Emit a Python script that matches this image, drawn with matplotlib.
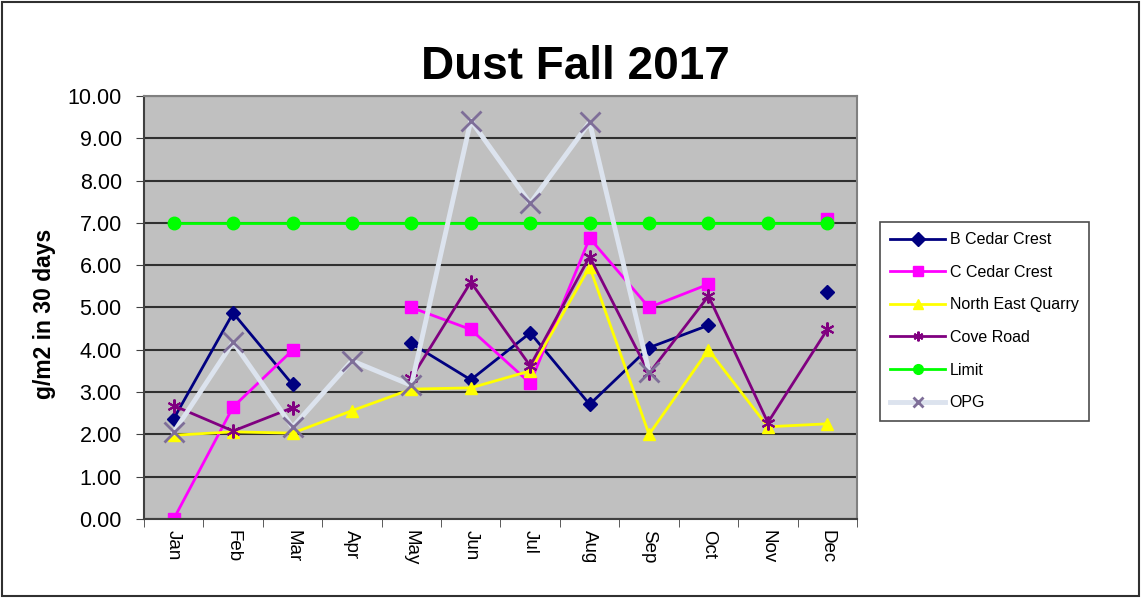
import numpy as np
import matplotlib.pyplot as plt
from matplotlib.patches import Rectangle

plt.rcParams['font.family'] = ['Liberation Sans', 'DejaVu Sans']

months = ['Jan', 'Feb', 'Mar', 'Apr', 'May', 'Jun', 'Jul', 'Aug', 'Sep', 'Oct', 'Nov', 'Dec']
nan = np.nan
b_cedar = [2.37, 4.87, 3.18, nan, 4.15, 3.29, 4.40, 2.71, 4.05, 4.58, nan, 5.37]
c_cedar = [0.00, 2.65, 3.99, nan, 5.00, 4.48, 3.21, 6.64, 5.00, 5.55, nan, 7.10]
ne_quarry = [1.98, 2.06, 2.03, 2.56, 3.07, 3.10, 3.50, 5.96, 2.00, 4.00, 2.18, 2.25]
cove_road = [2.68, 2.08, 2.63, nan, 3.33, 5.60, 3.62, 6.20, 3.44, 5.27, 2.28, 4.48]
limit = [7.0] * 12
opg = [2.05, 4.18, 2.17, 3.74, 3.16, 9.42, 7.46, 9.38, 3.48, nan, nan, nan]

fig = plt.figure(figsize=(11.41, 5.98), dpi=100)
ax = fig.add_axes([0.1262, 0.1321, 0.6249, 0.7074])
ax.set_facecolor('#C0C0C0')
x = np.arange(len(months))

ax.plot(x, b_cedar, color='#000080', lw=2, marker='D', ms=7, label='B Cedar Crest')
ax.plot(x, c_cedar, color='#FF00FF', lw=2, marker='s', ms=9, label='C Cedar Crest')
ax.plot(x, ne_quarry, color='#FFFF00', lw=2, marker='^', ms=9, label='North East Quarry')
ax.plot(x, cove_road, color='#800080', lw=2, marker=(6, 2, 0), ms=10, mew=1.5, label='Cove Road')
ax.plot(x, limit, color='#00FF00', lw=2, marker='o', ms=9, label='Limit')
ax.plot(x, opg, color='#DCE3EE', lw=3.5, marker='x', ms=14, mew=2, mec='#7E6E98', label='OPG')

ax.set_xlim(-0.5, 11.5)
ax.set_ylim(0, 10)
ax.set_yticks(np.arange(0, 11, 1))
ax.set_yticklabels(['%.2f' % v for v in np.arange(0, 11, 1)], fontsize=15.5)
ax.set_xticks(x)
ax.set_xticklabels(months, rotation=-90, fontsize=13.5)
ax.set_xticks(np.arange(-0.5, 12, 1), minor=True)
ax.tick_params(axis='x', which='major', length=0, pad=8)
ax.tick_params(axis='x', which='minor', length=6, color='#404040')
ax.tick_params(axis='y', length=6, color='#404040', pad=10)
ax.yaxis.grid(True, color='#303030', lw=1.5)
ax.set_axisbelow(True)
for s in ax.spines.values():
    s.set_color('#808080')
    s.set_linewidth(1.5)
ax.spines['left'].set_color('#404040')
ax.spines['bottom'].set_color('#404040')

ax.set_ylabel('g/m2 in 30 days', fontsize=16.5, fontweight='bold')
ax.yaxis.set_label_coords(-0.124, 0.485)
fig.text(0.504, 0.888, 'Dust Fall 2017', ha='center', va='center', fontsize=33, fontweight='bold')

leg = ax.legend(loc='upper left', bbox_to_anchor=(0.7713, 0.6288), bbox_transform=fig.transFigure,
                fontsize=11.5, frameon=True, fancybox=False, handlelength=3.4, labelspacing=1.1,
                borderpad=0.65, handletextpad=0.3, borderaxespad=0)
leg.get_frame().set_edgecolor('#202020')
leg.get_frame().set_linewidth(1.2)
for h in leg.legend_handles:
    h.set_markersize(7)

fig.patches.append(Rectangle((0.002, 0.004), 0.996, 0.992, transform=fig.transFigure,
                             fill=False, edgecolor='#303030', lw=1.5))

fig.savefig('out.png', dpi=100)
